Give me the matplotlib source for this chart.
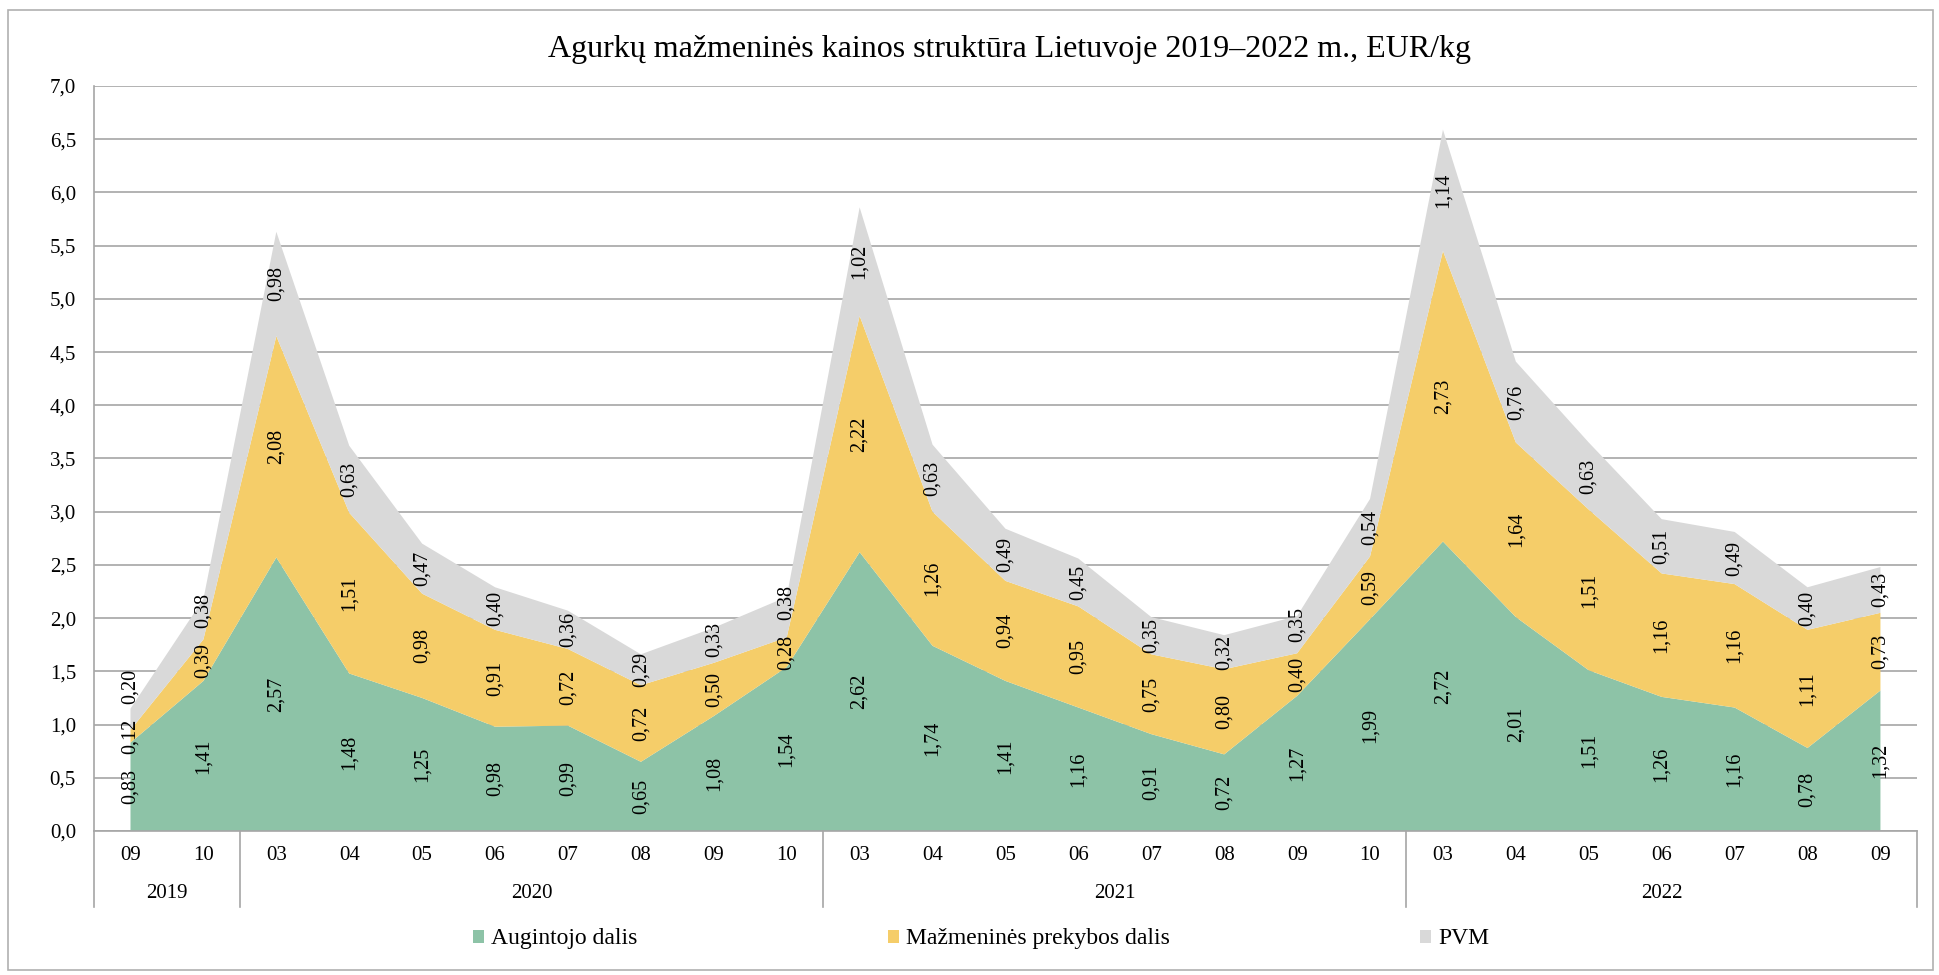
import numpy as np
import matplotlib.pyplot as plt
from matplotlib.patches import Patch, Rectangle
from matplotlib.lines import Line2D
from matplotlib.transforms import blended_transform_factory

plt.rcParams['font.family'] = ['Liberation Serif', 'DejaVu Serif']

months = ["09", "10",
          "03", "04", "05", "06", "07", "08", "09", "10",
          "03", "04", "05", "06", "07", "08", "09", "10",
          "03", "04", "05", "06", "07", "08", "09"]
years = ["2019", "2020", "2021", "2022"]
year_sizes = [2, 8, 8, 7]

augintojo = [0.83, 1.41, 2.57, 1.48, 1.25, 0.98, 0.99, 0.65, 1.08, 1.54,
             2.62, 1.74, 1.41, 1.16, 0.91, 0.72, 1.27, 1.99,
             2.72, 2.01, 1.51, 1.26, 1.16, 0.78, 1.32]
prekybos = [0.12, 0.39, 2.08, 1.51, 0.98, 0.91, 0.72, 0.72, 0.50, 0.28,
            2.22, 1.26, 0.94, 0.95, 0.75, 0.80, 0.40, 0.59,
            2.73, 1.64, 1.51, 1.16, 1.16, 1.11, 0.73]
pvm = [0.20, 0.38, 0.98, 0.63, 0.47, 0.40, 0.36, 0.29, 0.33, 0.38,
       1.02, 0.63, 0.49, 0.45, 0.35, 0.32, 0.35, 0.54,
       1.14, 0.76, 0.63, 0.51, 0.49, 0.40, 0.43]

series_names = ["Augintojo dalis", "Mažmeninės prekybos dalis", "PVM"]
colors = ["#8DC3A7", "#F5CD69", "#D9D9D9"]
grid_color = "#A6A6A6"

fig = plt.figure(figsize=(19.39, 9.75), dpi=100)
ax = fig.add_axes([0.0485, 0.1477, 0.9401, 0.7641])

x = np.arange(len(months))
layers = [np.array(augintojo), np.array(prekybos), np.array(pvm)]
ax.stackplot(x, *layers, colors=colors, linewidth=0)

# value labels centred inside each band, pushed up when they would collide
min_sep = 0.47
bottom = np.zeros(len(x))
prev_y = np.full(len(x), -np.inf)
for vals in layers:
    mid = np.maximum(bottom + vals / 2, prev_y + min_sep)
    for xi, yi, v in zip(x, mid, vals):
        ax.text(xi, yi, f"{v:.2f}".replace(".", ","), rotation=90,
                ha="center", va="center", fontsize=14.5, color="black")
    prev_y = mid
    bottom = bottom + vals

ax.set_xlim(-0.5, len(x) - 0.5)
ax.set_ylim(0, 7)
yt = np.arange(0, 7.01, 0.5)
ax.set_yticks(yt)
ax.set_yticklabels([f"{v:.1f}".replace(".", ",") for v in yt], fontsize=15)
ax.tick_params(axis="y", length=0, pad=13)
ax.yaxis.grid(True, color=grid_color, linewidth=1.2)
ax.set_axisbelow(True)

ax.set_xticks(x)
ax.set_xticklabels(months, fontsize=15)
ax.tick_params(axis="x", length=0, pad=11)

for s in ["top", "right", "left"]:
    ax.spines[s].set_visible(False)
ax.spines["bottom"].set_color(grid_color)
ax.spines["bottom"].set_linewidth(1.2)

# year groups under the month labels
tr = blended_transform_factory(ax.transData, ax.transAxes)
edges = np.concatenate([[0], np.cumsum(year_sizes)]) - 0.5
for e in edges:
    ax.add_line(Line2D([e, e], [-0.102, 0], transform=tr, color=grid_color,
                       linewidth=1.2, clip_on=False))
ax.add_line(Line2D([-0.5, -0.5], [0, 1], transform=tr, color=grid_color,
                   linewidth=1.2, clip_on=False))
for yr, a, b in zip(years, edges[:-1], edges[1:]):
    ax.text((a + b) / 2, -0.084, yr, transform=tr, ha="center", va="center",
            fontsize=15)

fig.text(0.5204, 0.949, "Agurkų mažmeninės kainos struktūra Lietuvoje 2019–2022 m., EUR/kg",
         ha="center", va="center", fontsize=23)

handles = [Patch(facecolor=c, edgecolor="none") for c in colors]
fig.legend(handles, series_names, loc="center", bbox_to_anchor=(0.506, 0.037),
           ncol=3, frameon=False, fontsize=17, handlelength=0.47,
           handleheight=0.47, handletextpad=0.3, columnspacing=10.6)

fig.add_artist(Rectangle((8 / 1939, 1 - 970 / 975), 1925 / 1939, 960 / 975,
                         transform=fig.transFigure, fill=False,
                         edgecolor="#B0B0B0", linewidth=1.2))

fig.savefig("out.png", dpi=100)
